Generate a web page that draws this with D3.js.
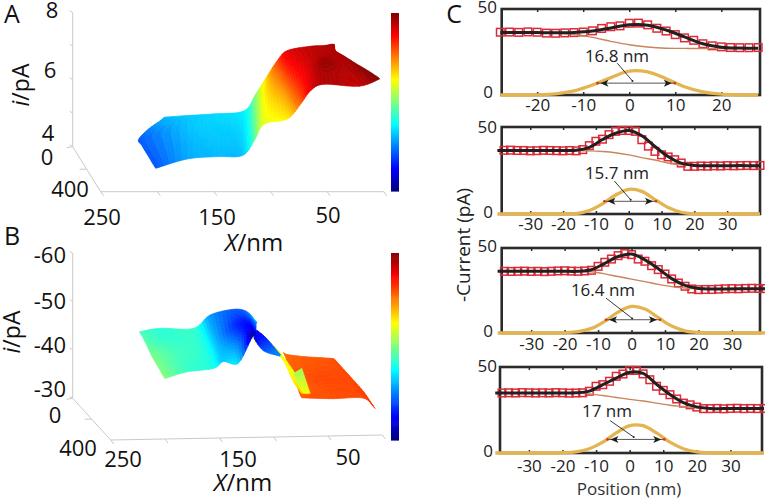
<!DOCTYPE html>
<html><head><meta charset="utf-8">
<script src="https://cdn.jsdelivr.net/npm/d3@7/dist/d3.min.js"></script>
<style>html,body{margin:0;padding:0;background:#fff}svg{display:block}text{font-family:"Open Sans",sans-serif}</style>
</head><body><svg id="c" width="765" height="499"><defs><filter id="soft" x="-5%" y="-5%" width="110%" height="110%"><feGaussianBlur stdDeviation="0.5"/></filter></defs></svg>
<script>
const aY=[0,50,100,150,200,250,300,350];
const aX=[
[169.3,148.7,125.1,98.6,88.3,78,69.2,60.4,39.8,28,21,19],
[186,151.8,127.8,101.9,91.6,81.5,71,61.8,42.9,31.1,24,20.8],
[198,154.9,130.4,105.2,94.9,85,72.9,63.2,46,34.2,24,17.4],
[198.3,158,133.1,108.5,98.2,88.5,74.7,64.6,49.1,37.3,24,14],
[198.3,161,135.8,111.8,101.5,92,76.5,66,52.1,40.3,23,10.6],
[198.3,164.1,138.5,115.1,104.8,95.6,78.3,67.4,55.2,43.4,22,7.2],
[198.3,167.2,141.2,118.4,108.1,99.1,80.2,68.8,58.3,46.5,20,3.8],
[198.3,170.3,143.8,121.7,111.4,102.6,82,70.2,61.4,49.6,18.7,0.4]];
const aI=[
[4.88,4.93,4.98,5.07,5.57,6.12,6.57,6.87,7,7.02,7.06,7.05],
[4.7,4.91,4.97,5.05,5.54,6.08,6.49,6.81,6.98,7.02,7.03,7.03],
[4.55,4.9,4.95,5.02,5.51,6.04,6.41,6.75,6.96,7.03,7.05,7.06],
[4.55,4.88,4.94,5,5.48,5.99,6.33,6.69,6.94,7.1,7.05,7.09],
[4.54,4.86,4.92,4.98,5.44,5.95,6.24,6.63,6.91,7.12,7.04,7.12],
[4.54,4.84,4.91,4.96,5.41,5.91,6.16,6.57,6.89,7.06,7.02,7.16],
[4.53,4.83,4.89,4.93,5.38,5.88,6.08,6.51,6.87,7.05,7,7.19],
[4.53,4.81,4.88,4.91,5.35,5.85,6,6.45,6.85,7.04,6.98,7.2]];
// ---------- Panel B surface patches
const bY=[0,100,200,300,400];
const bLeftX=[
[188.7,169.6,139,123.6,102.1,90,81.3],
[191.5,172.2,143.1,129.3,109.7,97.6,90],
[194.4,174.8,147.3,135,117.3,105.2,98.8],
[197.2,177.4,151.4,140.6,124.9,112.7,107.5],
[200,180,155.5,146.3,132.5,120.3,116.3]];
const bLeftI=[
[-43.5,-44.15,-44,-46.7,-47.8,-47.3,-45.2],
[-43.3,-44,-44.1,-46.5,-48.2,-48.2,-47],
[-42.7,-43.6,-44.2,-46.3,-48.6,-49.2,-48.1],
[-42.6,-43.7,-44.3,-46,-47,-49.9,-49.5],
[-42.5,-43.8,-44.4,-45.8,-45.4,-50.5,-51]];
const bRightX=[
[56.1,51.5,34.7,17.8,9.5],
[60.6,55.3,37.3,17.7,8.8],
[65.2,59.1,39.9,17.7,8.1],
[69.7,62.8,42.5,17.6,7.4],
[74.2,66.6,45.1,17.5,6.7]];
const bRightI=[
[-38.65,-38.2,-37.7,-37.4,-37.2],
[-38.5,-38.1,-37.7,-37.5,-37],
[-38.3,-38,-37.7,-37.5,-36.8],
[-38.2,-38,-37.7,-37.6,-36.5],
[-38,-37.9,-37.7,-37.7,-35.5]];
const bRightC=[
[-38,-37.6,-37.4,-37.3,-37.2],
[-37.8,-37.5,-37.3,-37.2,-37.1],
[-37.7,-37.4,-37.1,-37.1,-37.1],
[-37.6,-37.4,-37.2,-37.1,-37],
[-37.6,-37.3,-37.2,-37.1,-36.8]];
const bRibbonY=[350,400];
const bRibbonX=[[111.3,102.1,89.8],[118.1,109.5,94.2]];
const bRibbonI=[[-51.1,-49.3,-46],[-50.5,-47.9,-46.7]];
const bRibbonC=[[-49.5,-48.8,-46.5],[-50,-48,-47]];
const bStripeY=[300,300];
const bStripeX=[[102.3,87,71.6,59.4],[109.4,85.4,73.2,65.5]];
const bStripeI=[[-48.75,-45.65,-40.9,-36.6],[-47.6,-44.5,-39.2,-36.7]];
const bStripeC=[[-40,-40.4,-40.6,-39.6],[-40.2,-40.4,-40,-39.4]];
const bPatchY=[300,300];
const bPatchX=[[73.2,65.5],[64.6,57.8]];
const bPatchI=[[-40.8,-41.9],[-36.9,-36.7]];
const bPatchC=[[-42,-42],[-40.5,-40.5]];
// ---------- Panel A / B axis labels
const aZLabels=[8,6,4], bZLabels=[-60,-50,-40,-30], xLabels=[250,150,50], yLabels=[0,400];
// ---------- Panel C data
const c1RedX=d3.range(-28,29,2);
const c1Red=[36.5,36.6,36.4,36.7,36.5,36,35.9,36.1,36.3,36.6,37.3,38.7,39.7,40.2,41.7,41.8,40.8,38.8,37.2,35.1,33.2,31.8,29.8,28.6,28,27.6,27.5,27.5,27.6];
const c1LineX=d3.range(-28,29,4);
const c1Fit=[36.4,36.4,36.3,36.2,36.4,37.2,39,40.8,40.6,37.8,33.8,29.8,27.8,27.3,27.2];
const c1Base=[36.4,36.4,36.3,36,35.3,33.5,31.2,29.2,27.9,27.2,27.1,27,27,27.1,27.2];
const c1Gold=[0,0,0.1,0.7,2.4,5.8,10.1,13.9,13.4,9.5,4.8,1.8,0.5,0.1,0];
const cRedX=d3.range(-38,41,2);
const c2Red=[36.6,36.7,36.5,36.5,36.3,36.4,36.6,36.5,36.4,36.3,36.5,36.3,37,39.3,41.8,43,45.6,47.5,48,48,47.5,42.7,39,36,34,32.8,31.2,29.3,27.4,27.4,27.6,27.5,27.7,27.6,27.8,27.7,27.8,27.9,27.8,27.9];
const c3Red=[36.3,36.2,36.3,36.4,36.2,36.3,36.1,36.3,36.5,36.6,36.4,36.3,36.5,36.9,39.2,41.6,43.5,45.5,46.7,46.1,43.5,42.2,39.6,37.3,34.7,31.8,29.4,27.5,25.9,25.5,25.6,25.6,25.8,26,26.1,26,26.2,26.3,26.2,26.1];
const c4Red=[34.9,35,34.9,35.1,35,34.9,35,34.9,35.1,35,34.8,34.9,35,35.9,38.8,39.7,41.7,44.6,45.9,48,48,46,42.6,38.8,36.4,33.9,31.4,29,28,26.7,25.8,25.8,25.9,25.7,25.9,26,25.8,25.9,25.8,25.9];
const cLineX=d3.range(-40,41,4);
const c2Fit=[36.5,36.5,36.5,36.5,36.5,36.5,36.6,38.3,42.8,46.4,48,45,38.8,33,29.2,27.9,27.7,27.7,27.8,27.8,27.8];
const c2Base=[36.5,36.5,36.5,36.5,36.5,36.5,36.5,36.3,35.9,35.2,34,32.4,31,29.3,28.3,27.9,27.7,27.7,27.8,27.8,27.8];
const c2Gold=[0,0,0,0,0,0,0.2,2,5.8,10.9,14.2,13,8.3,3.7,1,0.1,0,0,0,0,0];
const c3Fit=[36.3,36.3,36.3,36.3,36.3,36.3,36.3,37.2,41,45,46.5,43,37.8,32,28,26.2,25.9,25.9,26,26,26];
const c3Base=[36.3,36.3,36.3,36.3,36.3,36.3,36.3,36,34.8,33.2,31.7,30.2,28.6,27.3,26.5,26,25.9,25.9,26,26,26];
const c3Gold=[0,0,0,0,0,0.1,0.75,2.7,6.9,12.3,15.6,14.1,9,4.1,1.3,0.3,0,0,0,0,0];
const c4Fit=[34.9,34.9,34.9,34.9,34.9,34.9,35,36,39.7,43.5,47,46.3,40,34,29.3,26.8,25.9,25.8,25.8,25.8,25.8];
const c4Base=[34.9,34.9,34.9,34.9,34.9,34.9,34.9,34.4,33.4,32.3,31.2,30.2,29,27.8,27,26.2,25.9,25.8,25.8,25.8,25.8];
const c4Gold=[0,0,0,0,0,0.15,0.7,2.5,6.3,11.7,15.9,15.9,11.7,6.3,2.5,0.7,0.15,0,0,0,0];
const c1Ticks=[-20,-10,0,10,20], cTicks=[-30,-20,-10,0,10,20,30];
const widthLabels=["16.8 nm","15.7 nm","16.4 nm","17 nm"];
const fwhmLeft=[-6.9,-7.4,-7.6,-6.6], fwhmRight=[9.9,8.3,8.5,10.3], fwhmHeight=[6.9,7.3,7.8,7.9];

const svg=d3.select("#c");
function jet(t){t=Math.max(0,Math.min(1,t));const c=v=>Math.round(255*Math.max(0,Math.min(1,1.5-Math.abs(4*t-v))));return `rgb(${c(3)},${c(2)},${c(1)})`;}

function makeProj(o,xs,ys,zs){
  const fx=d3.scaleLinear().domain([250,0]).range([0,xs[0]]);
  const fxy=d3.scaleLinear().domain([250,0]).range([0,xs[1]]);
  const gx=d3.scaleLinear().domain([0,400]).range([0,ys[0]]);
  const gy=d3.scaleLinear().domain([0,400]).range([0,ys[1]]);
  const zh=d3.scaleLinear().domain(zs[0]).range([0,zs[1]]);
  return (X,Y,Z)=>[o[0]+fx(X)+gx(Y),o[1]+fxy(X)+gy(Y)-zh(Z)];
}
function cr(a,b,c,d,t){return 0.5*((2*b)+(c-a)*t+(2*a-5*b+4*c-d)*t*t+(3*b-a-3*c+d)*t*t*t);}
function surface(g,proj,Y,X,I,C,color,n=6){
  const R=Y.length,K=X[0].length;
  const cl=(v,m)=>Math.max(0,Math.min(m-1,v));
  const smooth=(M,r,c,u,v)=>{
    const row=q=>{const rr=cl(q,R);return cr(M[rr][cl(c-1,K)],M[rr][c],M[rr][c+1],M[rr][cl(c+2,K)],u);};
    return cr(row(r-1),row(r),row(r+1),row(r+2),v);
  };
  for(let r=0;r<R-1;r++)for(let c=0;c<K-1;c++){
    for(let a=0;a<n;a++)for(let b=0;b<n;b++){
      const pt=(u,v)=>[smooth(X,r,c,u,v),Y[r]*(1-v)+Y[r+1]*v,smooth(I,r,c,u,v),smooth(C,r,c,u,v)];
      const q=[pt(a/n,b/n),pt((a+1)/n,b/n),pt((a+1)/n,(b+1)/n),pt(a/n,(b+1)/n)];
      const col=jet(color(d3.mean(q,d=>d[3])));
      g.append("path").attr("d","M"+q.map(d=>proj(d[0],d[1],d[2]).map(v=>v.toFixed(2)).join(",")).join("L")+"Z")
       .attr("fill",col).attr("stroke",col).attr("stroke-width",0.7);
    }
  }
}
function box(g,proj,zMin,zMax,zStep){
  const line=(a,b)=>g.append("line").attr("x1",a[0]).attr("y1",a[1]).attr("x2",b[0]).attr("y2",b[1]).attr("stroke","#c9c9c9").attr("stroke-width",1);
  line(proj(250,0,zMin),proj(250,0,zMax));
  line(proj(250,0,zMin),proj(250,400,zMin));
  line(proj(250,400,zMin),proj(0,400,zMin));
  d3.range(zMin,zMax+0.01*Math.sign(zStep),zStep).forEach(z=>{const p=proj(250,0,z);line(p,[p[0]-3,p[1]-2]);});
  const m=proj(250,200,zMin);line(m,[m[0]-7,m[1]]);
  const e=proj(250,0,zMin);line(e,[e[0]-6,e[1]+1]);
  d3.range(0,251,50).forEach(x=>{const p=proj(x,400,zMin);line(p,[p[0]+3,p[1]+4]);});
}
function colorbar(x,y0,y1){
  const s=d3.scaleLinear().domain([0,1]).range([y1,y0]);
  const g=svg.append("g");
  d3.range(0,1,1/178).forEach(t=>g.append("rect").attr("x",x).attr("width",8).attr("y",s(t+1/178)).attr("height",Math.abs(s(0)-s(1/178))+0.6).attr("fill",jet(t)));
}
function txt(t,x,y,size,anchor="middle",fill="#111",rot){
  const e=svg.append("text").text(t).attr("x",x).attr("y",y).attr("font-size",size).attr("text-anchor",anchor).attr("fill",fill);
  if(rot)e.attr("transform",`rotate(${rot} ${x} ${y})`);
  return e;
}
function axisTitle(x,y,size,rot,a,b){
  const e=txt("",x,y,size,"middle","#111",rot);
  e.append("tspan").attr("font-style","italic").text(a);
  e.append("tspan").text(b);
}
// ----- Panel A
const pA=makeProj([72.7,146.7],[283,0],[28,45],[[4,8],134]);
const gA=svg.append("g");
box(gA,pA,4,8,1);
const sA=gA.append("g").attr("filter","url(#soft)");
surface(sA,pA,aY,aX,aI,aI,d3.scaleLinear().domain([3.85,7.2]).range([0,1]));
colorbar(391,13,191);
txt("A",12,23,25);
const aZy=[18,78,141];aZLabels.forEach((d,i)=>txt(d,[52,50,48][i],aZy[i],22));
txt(yLabels[0],47,165,22);txt(yLabels[1],70,197,22);
xLabels.forEach((d,i)=>txt(d,[102,217,328][i],[225,225,223][i],22));
axisTitle(254,251,24,0,"X","/nm");
axisTitle(29,85,23,-90,"i","/pA");
// ----- Panel B
const pB=makeProj([72.7,398.3],[271.7,-5],[38,41.7],[[-30,-60],145]);
const gB=svg.append("g");
box(gB,pB,-30,-60,-10);
const sB=gB.append("g").attr("filter","url(#soft)");
const colB=d3.scaleLinear().domain([-51.6,-33.6]).range([0,1]);
surface(sB,pB,bY,bLeftX,bLeftI,bLeftI,colB);
surface(sB,pB,bY,bRightX,bRightI,bRightC,colB);
surface(sB,pB,bStripeY,bStripeX,bStripeI,bStripeC,colB);
surface(sB,pB,bRibbonY,bRibbonX,bRibbonI,bRibbonC,colB);
surface(sB,pB,bPatchY,bPatchX,bPatchI,bPatchC,colB);
colorbar(391,253,440);
txt("B",12,245,25);
const bZy=[263,309,353,397];bZLabels.forEach((d,i)=>txt(d,66,bZy[i],22,"end"));
txt(yLabels[0],55,423,22);txt(yLabels[1],78,456,22);
xLabels.forEach((d,i)=>txt(d,[123,238,348][i],[467,467,465][i],22));
axisTitle(243,491,24,0,"X","/nm");
axisTitle(20,332,23,-90,"i","/pA");
// ----- Panel C
const cPanels=[
 {l:501.7,r:760,t:9,b:95,dom:[-27.7,28.4],ticks:c1Ticks,rx:c1RedX,red:c1Red,lx:c1LineX,fit:c1Fit,base:c1Base,gold:c1Gold,lab:[617,62],lead:[[-2.6,18.5],[0.7,8.2]],pad:4,ylab:[13,98]},
 {l:501.7,r:760,t:127,b:214,dom:[-38.7,40],ticks:cTicks,rx:cRedX,red:c2Red,lx:cLineX,fit:c2Fit,base:c2Base,gold:c2Gold,lab:[617,179],lead:[[-4.4,19],[0.6,8.2]],pad:4,ylab:[133,218]},
 {l:501.7,r:760,t:248,b:333,dom:[-38.8,38.4],ticks:cTicks,rx:cRedX,red:c3Red,lx:cLineX,fit:c3Fit,base:c3Base,gold:c3Gold,lab:[603,296],lead:[[-7.6,20.5],[0.2,8.6]],pad:5,ylab:[252,337]},
 {l:500,r:762,t:367,b:453,dom:[-38.6,39.4],ticks:cTicks,rx:cRedX,red:c4Red,lx:cLineX,fit:c4Fit,base:c4Base,gold:c4Gold,lab:[607,417],lead:[[-5.8,18.8],[1.2,9.3]],pad:7,ylab:[372,457]}
];
cPanels.forEach((p,i)=>{
  const x=d3.scaleLinear().domain(p.dom).range([p.l,p.r]);
  const y=d3.scaleLinear().domain([0,50]).range([p.b,p.t]);
  const g=svg.append("g");
  const mk=(vals)=>d3.line().x((d,k)=>x(p.lx[k])).y(d=>y(d)).curve(d3.curveCatmullRom.alpha(0.5))(vals);
  g.append("rect").attr("x",p.l).attr("y",p.t).attr("width",p.r-p.l).attr("height",p.b-p.t).attr("fill","none").attr("stroke","#2b2b2b").attr("stroke-width",2.6);
  g.append("g").selectAll("rect").data(p.red).join("rect")
    .attr("x",(d,k)=>x(p.rx[k])-3.8).attr("y",d=>y(d)-3.8).attr("width",7.6).attr("height",7.6)
    .attr("fill","none").attr("stroke","#dc2a38").attr("stroke-width",1.5);
  g.append("path").attr("d",mk(p.base)).attr("fill","none").attr("stroke","#c9845a").attr("stroke-width",1.4);
  g.append("path").attr("d",mk(p.fit)).attr("fill","none").attr("stroke","#231f20").attr("stroke-width",3);
  const axB=g.append("g").attr("transform",`translate(0,${p.b})`).call(d3.axisBottom(x).tickValues(p.ticks).tickSize(-3).tickPadding(p.pad).tickFormat(d=>String(d)));
  axB.select(".domain").remove();
  axB.selectAll("line").attr("stroke","#2b2b2b").attr("stroke-width",1.5);
  axB.selectAll("text").attr("font-size",17).attr("fill","#222").attr("font-family",'"Open Sans",sans-serif');
  const axT=g.append("g").attr("transform",`translate(0,${p.t})`).call(d3.axisTop(x).tickValues(p.ticks).tickSize(-3).tickFormat(""));
  axT.select(".domain").remove();
  axT.selectAll("line").attr("stroke","#2b2b2b").attr("stroke-width",1.5);
  g.append("path").attr("d",mk(p.gold)).attr("fill","none").attr("stroke","#e3b44f").attr("stroke-width",3.3);
  // FWHM marker
  const ay=y(fwhmHeight[i]),a1=x(fwhmLeft[i]),a2=x(fwhmRight[i]);
  g.append("line").attr("x1",a1).attr("x2",a2).attr("y1",ay).attr("y2",ay).attr("stroke","#555").attr("stroke-width",1);
  [[a1,1],[a2,-1]].forEach(([ax,s])=>{
    g.append("path").attr("d",`M${ax+s*3},${ay}l${s*8},-3.5l${-s*2},3.5l${s*2},3.5Z`).attr("fill","#1c1c1c");
    g.append("circle").attr("cx",ax).attr("cy",ay).attr("r",1.3).attr("fill","#e0311f");
  });
  g.append("line").attr("x1",x(p.lead[0][0])).attr("y1",y(p.lead[0][1])).attr("x2",x(p.lead[1][0])).attr("y2",y(p.lead[1][1])).attr("stroke","#222").attr("stroke-width",0.9);
  g.append("circle").attr("cx",x(p.lead[1][0])).attr("cy",y(p.lead[1][1])).attr("r",1).attr("fill","#222");
  txt(widthLabels[i],p.lab[0],p.lab[1],17,"middle","#222");
  txt("50",497,p.ylab[0],17,"end","#222");
  txt("0",493,p.ylab[1],17,"end","#222");
});
txt("C",454,23,25);
txt("-Current (pA)",470,245,19,"middle","#222",-90);
txt("Position (nm)",629,495,17,"middle","#333");
</script></body></html>
